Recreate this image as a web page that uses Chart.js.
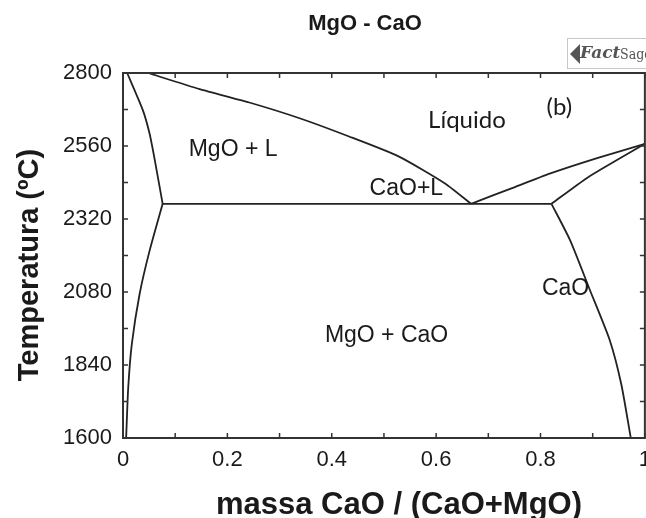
<!DOCTYPE html>
<html>
<head>
<meta charset="utf-8">
<script src="https://cdn.jsdelivr.net/npm/chart.js@4.4.0/dist/chart.umd.min.js"></script>
<style>
  html, body { margin: 0; padding: 0; background: #fff; overflow: hidden; }
  #wrap { width: 660px; height: 518px; }
</style>
</head>
<body>
<div id="wrap"><canvas id="diagrama" width="660" height="518"></canvas></div>
<script>
// Axis ticks
const xTicks = [0, 0.2, 0.4, 0.6, 0.8, 1];
const xTickLabels = ['0', '0.2', '0.4', '0.6', '0.8', '1'];
const yTicks = [1600, 1840, 2080, 2320, 2560, 2800];

// Phase boundaries: [massa CaO, T (ºC)]
const liquidusMgO = [[0.048, 2800], [0.147, 2747], [0.242, 2703], [0.337, 2652], [0.432, 2592], [0.528, 2526], [0.617, 2437], [0.667, 2370]];
const solidusMgO = [[0.008, 2800], [0.038, 2678], [0.051, 2600], [0.061, 2513], [0.076, 2370]];
const solvusMgO = [[0.076, 2370], [0.051, 2216], [0.032, 2075], [0.017, 1910], [0.010, 1765], [0.006, 1600]];
const eutetica = [[0.076, 2370], [0.821, 2370]];
const liquidusCaO = [[0.667, 2370], [0.743, 2420], [0.819, 2470], [0.910, 2521], [1.0, 2567]];
const solidusCaO = [[0.821, 2370], [0.890, 2456], [1.0, 2567]];
const solvusCaO = [[0.821, 2370], [0.857, 2249], [0.895, 2085], [0.933, 1920], [0.955, 1775], [0.973, 1600]];

// Region labels
const rotulos = [
    { text: 'MgO + L', x: 0.211, t: 2549, font: '23px "Liberation Sans", Arial' },
    { text: 'Líquido', x: 0.659, t: 2645, font: '24px Lato' },
    { text: '(b)', x: 0.836, t: 2688, font: '24px Lato' },
    { text: 'CaO+L', x: 0.543, t: 2421, font: '23px "Liberation Sans", Arial' },
    { text: 'CaO', x: 0.848, t: 2091, font: '23px "Liberation Sans", Arial' },
    { text: 'MgO + CaO', x: 0.505, t: 1936, font: '23px "Liberation Sans", Arial' }
];

const curvas = [liquidusMgO, solidusMgO, solvusMgO, eutetica, liquidusCaO, solidusCaO, solvusCaO];

const toPoints = arr => arr.map(p => ({ x: p[0], y: p[1] }));
const mids = arr => arr.slice(1).map((v, i) => (v + arr[i]) / 2);

// Frame, inward ticks and text
const molduraPlugin = {
    id: 'moldura',
    afterDraw(chart) {
        const { ctx, chartArea: a, scales } = chart;
        const sx = scales.x, sy = scales.y;
        ctx.save();
        ctx.strokeStyle = '#333';
        ctx.lineWidth = 2;
        ctx.strokeRect(a.left, a.top, a.right - a.left, a.bottom - a.top);

        ctx.lineWidth = 1.5;
        ctx.beginPath();
        [...xTicks, ...mids(xTicks)].forEach(v => {
            const px = sx.getPixelForValue(v);
            ctx.moveTo(px, a.bottom); ctx.lineTo(px, a.bottom - 5);
            ctx.moveTo(px, a.top); ctx.lineTo(px, a.top + 5);
        });
        [...yTicks, ...mids(yTicks)].forEach(v => {
            const py = sy.getPixelForValue(v);
            ctx.moveTo(a.left, py); ctx.lineTo(a.left + 5, py);
            ctx.moveTo(a.right, py); ctx.lineTo(a.right - 5, py);
        });
        ctx.stroke();

        ctx.fillStyle = '#1a1a1a';
        ctx.textAlign = 'center';
        ctx.textBaseline = 'middle';
        rotulos.forEach(r => {
            ctx.font = r.font;
            ctx.fillText(r.text, sx.getPixelForValue(r.x), sy.getPixelForValue(r.t));
        });

        // Titles
        ctx.font = 'bold 22px "Liberation Sans", Arial';
        ctx.fillText('MgO - CaO', 365, 24);
        ctx.font = 'bold 31px "Liberation Sans", Arial';
        ctx.fillText('massa CaO / (CaO+MgO)', 399, 505);
        ctx.save();
        ctx.translate(38, 265);
        ctx.rotate(-Math.PI / 2);
        ctx.font = 'bold 29px "Liberation Sans", Arial';
        ctx.textBaseline = 'alphabetic';
        ctx.fillText('Temperatura (ºC)', 0, 0);
        ctx.restore();

        // FactSage logo box
        ctx.strokeStyle = '#c8c8c8';
        ctx.lineWidth = 1;
        ctx.strokeRect(567.5, 38.5, 90, 30);
        ctx.fillStyle = '#555';
        ctx.textAlign = 'left';
        ctx.font = 'bold italic 17px "DejaVu Serif"';
        ctx.fillText('Fact', 580, 54);
        ctx.font = '14px "DejaVu Serif Condensed", "DejaVu Serif"';
        ctx.fillText('Sage', 620, 55);
        ctx.beginPath();
        ctx.moveTo(570, 54); ctx.lineTo(580, 44); ctx.lineTo(580, 64); ctx.closePath();
        ctx.fill();
        ctx.restore();
    }
};

const ctx = document.getElementById('diagrama').getContext('2d');

const diagrama = new Chart(ctx, {
    type: 'scatter',
    data: {
        datasets: curvas.map(c => ({
            data: toPoints(c),
            showLine: true,
            borderColor: '#222',
            borderWidth: 1.8,
            pointRadius: 0,
            tension: 0.2,
            fill: false
        }))
    },
    options: {
        responsive: false,
        animation: false,
        devicePixelRatio: 1,
        layout: { padding: { top: 73, right: 12, bottom: 0, left: 0 } },
        plugins: { legend: { display: false }, tooltip: { enabled: false }, title: { display: false } },
        scales: {
            x: {
                type: 'linear', min: 0, max: 1,
                afterBuildTicks: s => { s.ticks = xTicks.map(v => ({ value: v })); },
                afterFit: s => { s.height = 80; },
                grid: { display: false, drawTicks: false },
                border: { display: false },
                ticks: {
                    padding: 9, maxRotation: 0, autoSkip: false,
                    color: '#1a1a1a',
                    font: { family: '"Liberation Sans", Arial', size: 22 },
                    callback: (v, i) => xTickLabels[i]
                }
            },
            y: {
                type: 'linear', min: 1600, max: 2800,
                afterBuildTicks: s => { s.ticks = yTicks.map(v => ({ value: v })); },
                afterFit: s => { s.width = 123; },
                grid: { display: false, drawTicks: false },
                border: { display: false },
                ticks: {
                    padding: 11, autoSkip: false,
                    color: '#1a1a1a',
                    font: { family: '"Liberation Sans", Arial', size: 22 },
                    callback: v => String(v)
                }
            }
        }
    },
    plugins: [molduraPlugin]
});
</script>
</body>
</html>
